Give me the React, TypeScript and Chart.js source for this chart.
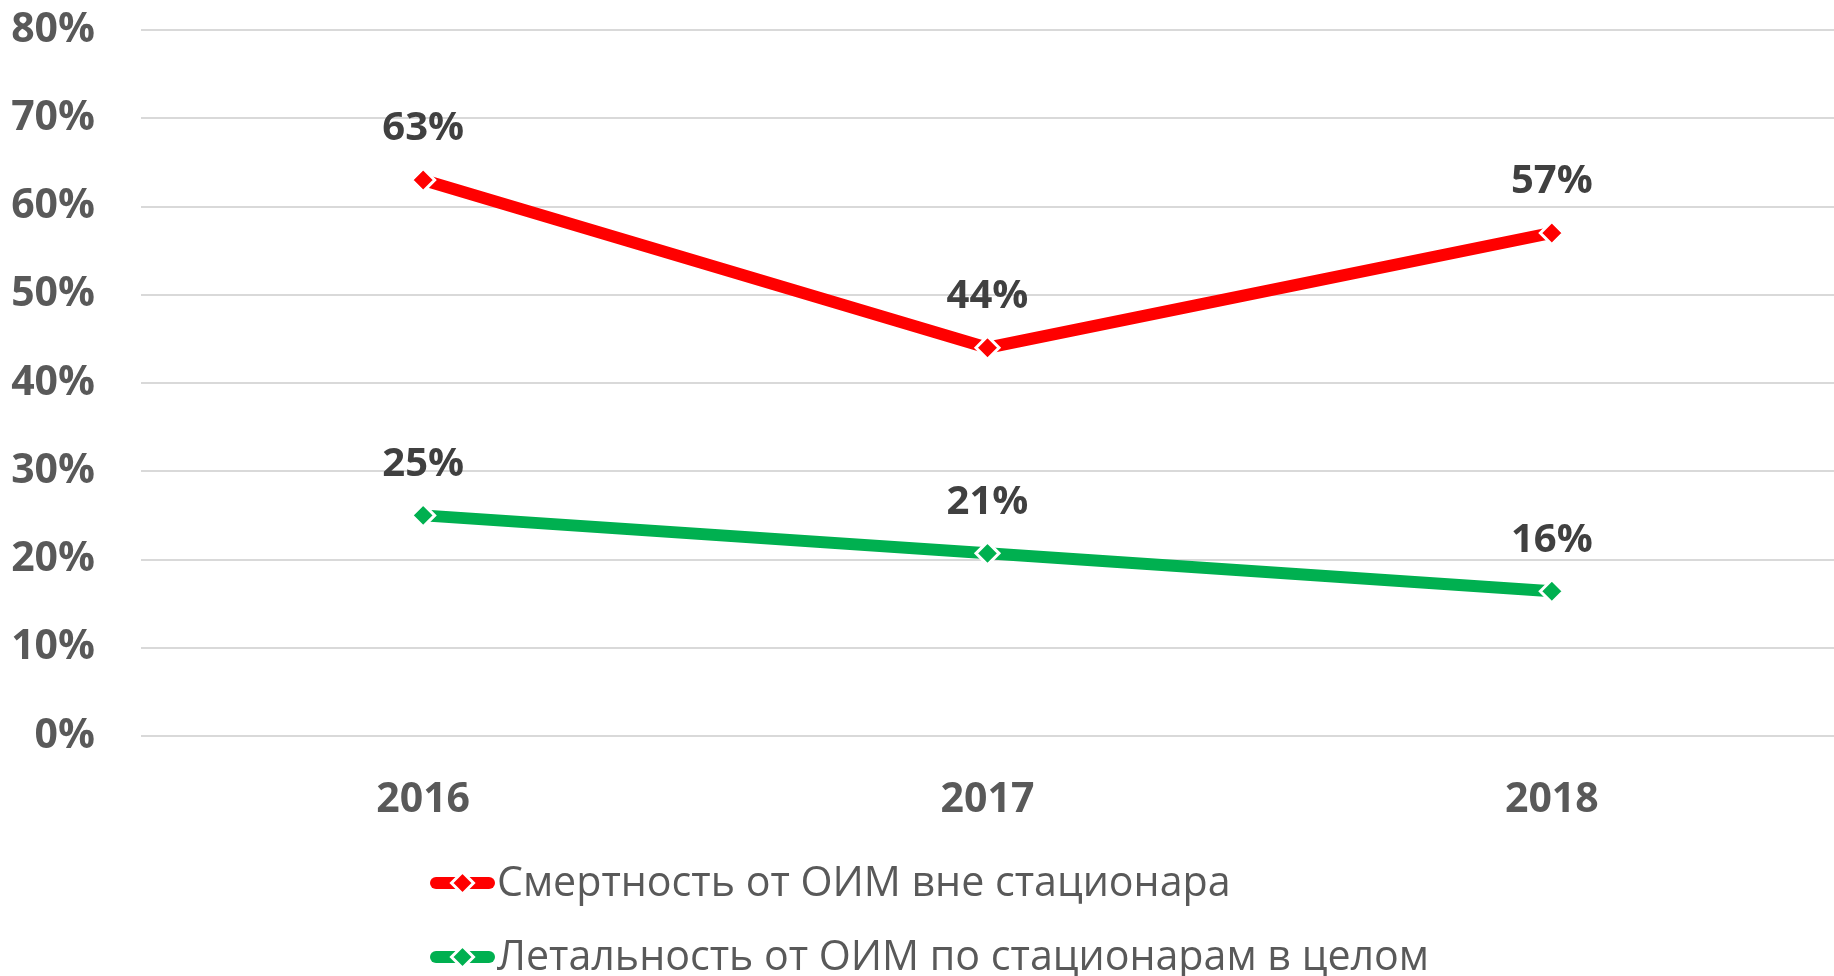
import React, { useEffect, useRef } from "react";
import { Chart, registerables } from "chart.js";

Chart.register(...registerables);

const categories = ["2016", "2017", "2018"];
const outOfHospital = [0.63, 0.44, 0.57];
const inHospital = [0.25, 0.207, 0.164];
const seriesNames = [
  "Смертность от ОИМ вне стационара",
  "Летальность от ОИМ по стационарам в целом",
];
const seriesColors = ["#FF0000", "#00B050"];
const yMin = 0;
const yMax = 0.8;
const yStep = 0.1;

const W = 1834;
const H = 976;

const pct = (v: number) => Math.round(v * 100) + "%";

const dataLabelPlugin = {
  id: "dataLabels",
  afterDatasetsDraw(chart: any) {
    const ctx = chart.ctx;
    ctx.save();
    ctx.font = 'bold 40px "Open Sans"';
    ctx.fillStyle = "#404040";
    ctx.textAlign = "center";
    ctx.textBaseline = "middle";
    chart.data.datasets.forEach((ds: any, i: number) => {
      const meta = chart.getDatasetMeta(i);
      meta.data.forEach((pt: any, j: number) => {
        ctx.fillText(pct(ds.data[j]), pt.x, pt.y - 51);
      });
    });
    ctx.restore();
  },
};

const legendPlugin = {
  id: "stackedLegend",
  afterDraw(chart: any) {
    const ctx = chart.ctx;
    const area = chart.chartArea;
    const rows = [area.bottom + 147, area.bottom + 221];
    const lineX0 = 436;
    const lineX1 = 489;
    const textX = 497;
    const squeeze = 0.98;
    ctx.save();
    chart.data.datasets.forEach((ds: any, i: number) => {
      const y = rows[i];
      ctx.strokeStyle = ds.borderColor;
      ctx.lineWidth = 12;
      ctx.lineCap = "round";
      ctx.beginPath();
      ctx.moveTo(lineX0, y);
      ctx.lineTo(lineX1, y);
      ctx.stroke();
      const cx = (lineX0 + lineX1) / 2;
      const r = 11;
      ctx.beginPath();
      ctx.moveTo(cx, y - r);
      ctx.lineTo(cx + r, y);
      ctx.lineTo(cx, y + r);
      ctx.lineTo(cx - r, y);
      ctx.closePath();
      ctx.fillStyle = ds.borderColor;
      ctx.fill();
      ctx.lineWidth = 3;
      ctx.strokeStyle = "#FFFFFF";
      ctx.lineCap = "butt";
      ctx.stroke();
      ctx.save();
      ctx.translate(textX, y + 1);
      ctx.scale(squeeze, 1);
      ctx.font = '42px "Open Sans"';
      ctx.fillStyle = "#595959";
      ctx.textAlign = "left";
      ctx.textBaseline = "middle";
      ctx.fillText(ds.label, 0, 0);
      ctx.restore();
    });
    ctx.restore();
  },
};

export default function App() {
  const canvasRef = useRef<HTMLCanvasElement | null>(null);

  useEffect(() => {
    document.body.style.margin = "0";
    const canvas = canvasRef.current;
    if (!canvas) return;
    const makeDs = (label: string, data: number[], color: string) => ({
      label,
      data,
      borderColor: color,
      backgroundColor: color,
      borderWidth: 12,
      borderCapStyle: "butt",
      borderJoinStyle: "miter",
      pointStyle: "rectRot",
      pointRadius: 11.5,
      pointBackgroundColor: color,
      pointBorderColor: "#FFFFFF",
      pointBorderWidth: 3,
      tension: 0,
      fill: false,
    });
    const chart = new Chart(canvas, {
      type: "line",
      data: {
        labels: categories,
        datasets: [
          makeDs(seriesNames[0], outOfHospital, seriesColors[0]),
          makeDs(seriesNames[1], inHospital, seriesColors[1]),
        ] as any,
      },
      options: {
        responsive: false,
        animation: false,
        devicePixelRatio: 1,
        layout: { autoPadding: false, padding: { top: 30, left: 0, right: 0, bottom: 0 } },
        plugins: {
          legend: { display: false },
          tooltip: { enabled: false },
        },
        scales: {
          x: {
            offset: true,
            grid: { display: false, drawTicks: false },
            border: { display: false },
            ticks: {
              padding: 40,
              color: "#595959",
              font: { family: '"Open Sans"', weight: "bold", size: 41 },
            },
            afterFit(scale: any) {
              scale.height = 240;
              scale.paddingLeft = 0;
              scale.paddingRight = 0;
            },
          },
          y: {
            min: yMin,
            max: yMax,
            grid: { color: "#D9D9D9", lineWidth: 2, drawTicks: false },
            border: { display: false },
            ticks: {
              stepSize: yStep,
              padding: 46,
              color: "#595959",
              font: { family: '"Open Sans"', weight: "bold", size: 41 },
              callback: (v: any) => pct(Number(v)),
            },
            afterFit(scale: any) {
              scale.width = 141;
              scale.paddingTop = 0;
              scale.paddingBottom = 0;
            },
          },
        },
      } as any,
      plugins: [dataLabelPlugin, legendPlugin],
    });
    return () => chart.destroy();
  }, []);

  return (
    <div style={{ width: W, height: H }}>
      <canvas ref={canvasRef} width={W} height={H} style={{ display: "block", width: W, height: H }} />
    </div>
  );
}
